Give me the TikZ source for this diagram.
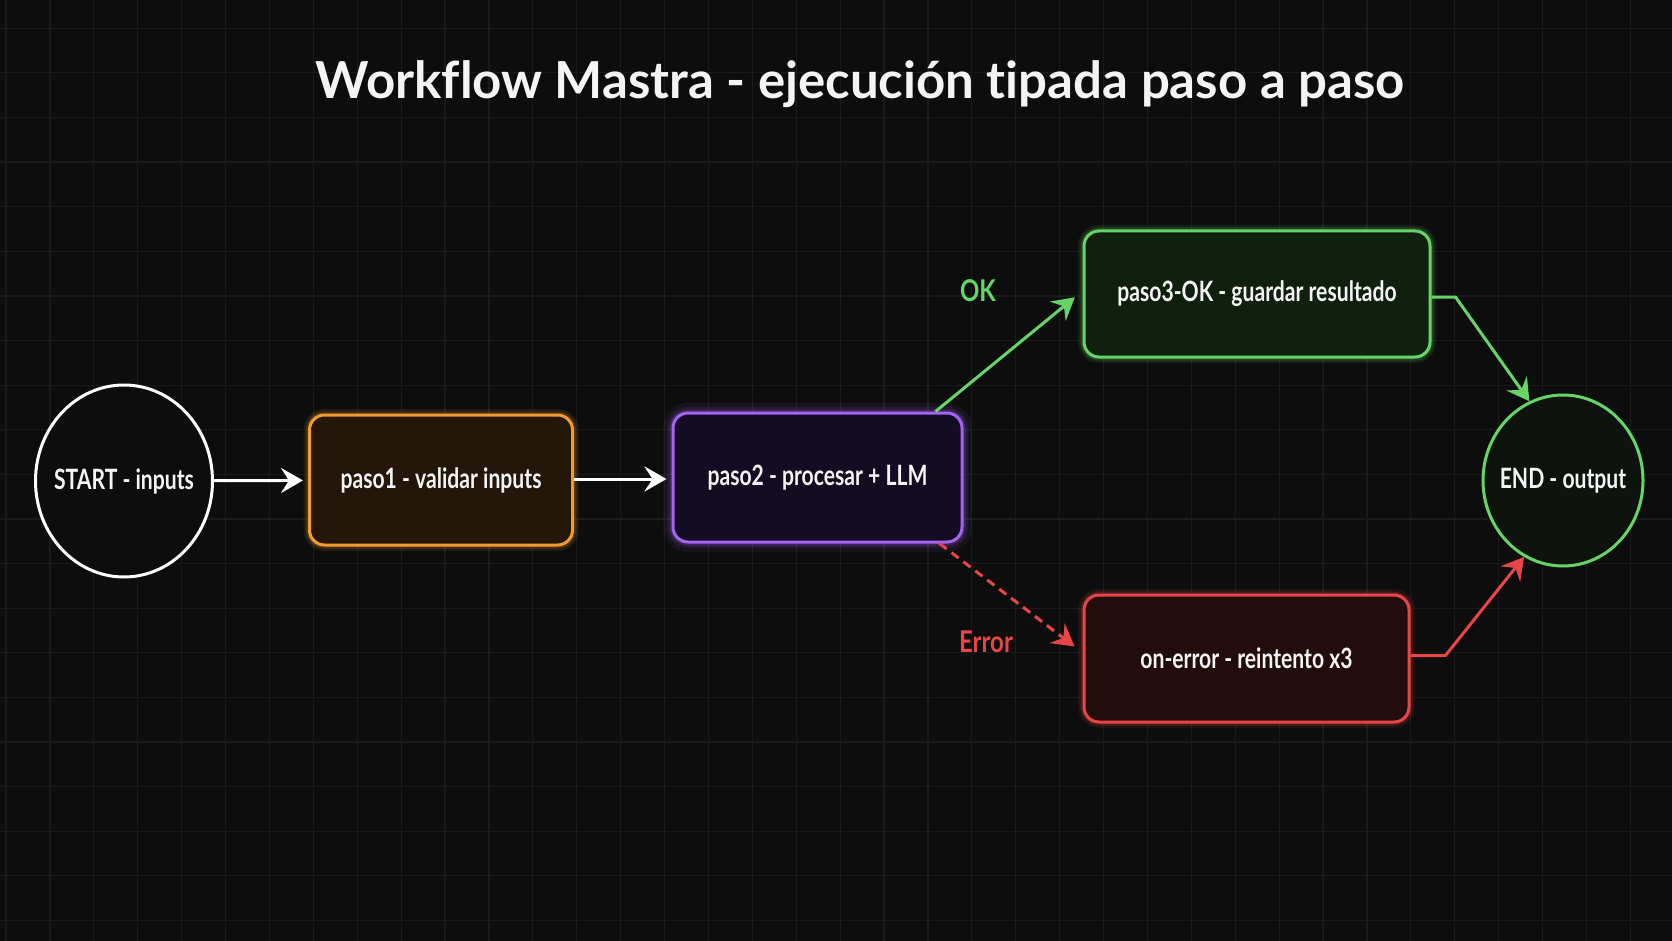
\documentclass[tikz,border=0pt]{standalone}
\usepackage{fontspec}
\setmainfont{Lato}
\newfontfamily\condfont[FakeStretch=0.755]{Lato Bold}
\newfontfamily\condbold[FakeStretch=0.80]{Lato Bold}
\newfontfamily\titlefont[Ligatures={NoCommon}]{Lato Bold}
\usetikzlibrary{arrows.meta,shapes.geometric}
\definecolor{bgc}{HTML}{0D0D0D}
\definecolor{gridc}{HTML}{1A1A1A}
\definecolor{txt}{HTML}{F4F4F4}
\definecolor{orangec}{HTML}{F29A33}
\definecolor{orangefill}{HTML}{24170A}
\definecolor{purplec}{HTML}{A463F2}
\definecolor{purplefill}{HTML}{140C22}
\definecolor{greenc}{HTML}{66D466}
\definecolor{greenfill}{HTML}{10200F}
\definecolor{redc}{HTML}{E84646}
\definecolor{redfill}{HTML}{230C0C}
\definecolor{endfill}{HTML}{0E130E}
\tikzset{
  basebox/.style={rectangle, rounded corners=15pt, line width=3pt, text=txt,
    font=\condfont\fontsize{28}{30}\selectfont, inner sep=0pt},
  glow/.style={preaction={draw=#1, line width=12pt, opacity=0.10},
               preaction={draw=#1, line width=7pt, opacity=0.18}},
  circnode/.style={ellipse, line width=3pt, text=txt, inner sep=0pt,
    font=\condfont\fontsize{28}{30}\selectfont},
  conn/.style={line width=3pt, -{Stealth[length=22pt,width=25pt,inset=8pt]}},
  lbl/.style={font=\condbold\fontsize{30}{32}\selectfont}
}
\begin{document}
\begin{tikzpicture}[x=1pt,y=-1pt]
\fill[bgc] (0,0) rectangle (1672,941);
\useasboundingbox (0,0) rectangle (1672,941);
\foreach \i in {0,...,38} \draw[gridc, line width=1.2pt] ({6+43.9*\i},0) -- ({6+43.9*\i},941);
\foreach \j in {0,...,21} \draw[gridc, line width=1.2pt] (0,{28.3+44.6*\j}) -- (1672,{28.3+44.6*\j});

\node[text=txt, font=\titlefont\fontsize{51}{60}\selectfont, anchor=base] (title) at (860,99) {Workflow Mastra - ejecución tipada paso a paso};

\node[circnode, draw=white, fill=bgc, minimum width=177pt, minimum height=192pt] (start) at (124,481) {\makebox[0pt]{START - inputs}};
\node[basebox, draw=orangec, fill=orangefill, glow=orangec, minimum width=263pt, minimum height=130pt] (paso1) at (441,480) {paso1 - validar inputs};
\node[basebox, draw=purplec, fill=purplefill, glow=purplec, preaction={draw=purplec, line width=20pt, opacity=0.07}, minimum width=289pt, minimum height=129pt] (paso2) at (817.5,477.5) {paso2 - procesar + LLM};
\node[basebox, draw=greenc, fill=greenfill, glow=greenc, minimum width=346pt, minimum height=126pt] (paso3) at (1257,294) {paso3-OK - guardar resultado};
\node[basebox, draw=redc, fill=redfill, glow=redc, minimum width=325pt, minimum height=127pt] (onerr) at (1246.5,658.5) {on-error - reintento x3};
\node[circnode, draw=greenc, fill=endfill, minimum width=160pt, minimum height=171pt] (end) at (1563,480.5) {\makebox[0pt]{END - output}};

\draw[conn, white, shorten >=5pt] (start) -- (paso1);
\draw[conn, white, shorten >=5pt] ([yshift=1pt]paso1.east) -- ([yshift=1pt]paso1.east -| paso2.west);
\draw[conn, greenc, shorten >=10pt] ([xshift=-28pt]paso2.north east) -- ([yshift=3pt]paso3.west);
\draw[conn, redc, dashed, dash pattern=on 9pt off 6pt, shorten >=10pt] ([xshift=-24pt]paso2.south east) -- ([yshift=6pt]onerr.west);
\draw[conn, greenc, line join=round] ([yshift=-3pt]paso3.east) -- ++(24,0) -- (end.113);
\draw[conn, redc, line join=round] ([yshift=3pt]onerr.east) -- ++(35,0) -- (end.243);

\node[lbl, text=greenc] (oklbl) at (978,291) {OK};
\node[lbl, text=redc] (errlbl) at (986,642) {Error};
\end{tikzpicture}
\end{document}
